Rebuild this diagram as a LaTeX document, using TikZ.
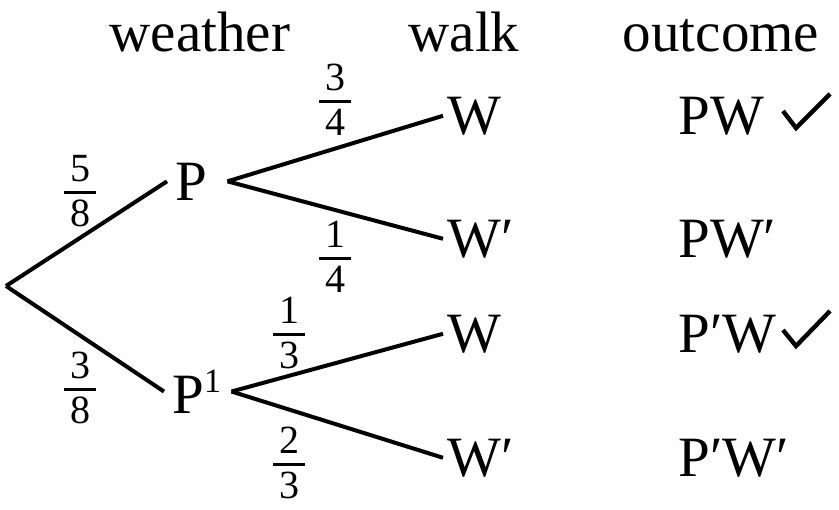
\documentclass[tikz,border=0pt]{standalone}
\usepackage{fontspec}
\setmainfont{Liberation Serif}
\usetikzlibrary{positioning}

% stacked fraction with a thick bar
\newcommand{\frc}[2]{\vbox{\halign{\hfil\kern3pt##\kern3pt\hfil\cr #1\cr\noalign{\kern4.5pt\hrule height1.6pt\kern3pt}#2\cr}}}

\begin{document}
\begin{tikzpicture}[
    x=0.5pt, y=-0.5pt,
    every node/.style={font=\fontsize{28.5}{34}\selectfont, inner sep=0pt},
    heading/.style={anchor=base},
    level/.style={anchor=base west, inner sep=4pt},
    walknode/.style={anchor=base west, inner sep=2pt},
    result/.style={anchor=base west},
    prob/.style={font=\fontsize{20}{24}\selectfont},
    branch/.style={line width=2pt},
    okmark/.style={line width=2.2pt}
]
\useasboundingbox (0,0) rectangle (839,509);

% column headings
\node[heading] (hweather) at (200,51) {weather};
\node[heading] (hwalk) at (464,51) {walk};
\node[heading] (houtcome) at (721,51) {outcome};

% tree
\coordinate (root) at (6,286);
\node[level] (p) at (167,200) {P};
\node[level] (q) at (164,413) {P\raisebox{0.36em}{\fontsize{17}{17}\selectfont 1}};

\node[walknode] (w1) at (443,134) {W};
\node[walknode] (w2) at (443,257) {W′};
\node[walknode] (w3) at (443,352) {W};
\node[walknode] (w4) at (443,476) {W′};

\draw[branch] (root) -- (p.west);
\draw[branch] (root) -- (q.west);
\draw[branch] ([xshift=6pt]p.east) -- (w1.west);
\draw[branch] ([xshift=6pt]p.east) -- (w2.west);
\draw[branch] ([xshift=1pt]q.east) -- (w3.west);
\draw[branch] ([xshift=1pt]q.east) -- (w4.west);

% probabilities
\node[prob] (f1) at (80,191) {\frc{5}{8}};
\node[prob] (f2) at (80,388) {\frc{3}{8}};
\node[prob] (f3) at (335,100) {\frc{3}{4}};
\node[prob] (f4) at (335,257) {\frc{1}{4}};
\node[prob] (f5) at (289,333) {\frc{1}{3}};
\node[prob] (f6) at (289,463) {\frc{2}{3}};

% outcomes
\node[result] (o1) at (678,134) {PW};
\node[result] (o2) at (678,257) {PW′};
\node[result] (o3) at (678,352) {P′W};
\node[result] (o4) at (678,476) {P′W′};

\draw[okmark] (783,111) -- (796,128) -- (830,94);
\draw[okmark] (783,330) -- (796,346) -- (830,311);
\end{tikzpicture}
\end{document}
